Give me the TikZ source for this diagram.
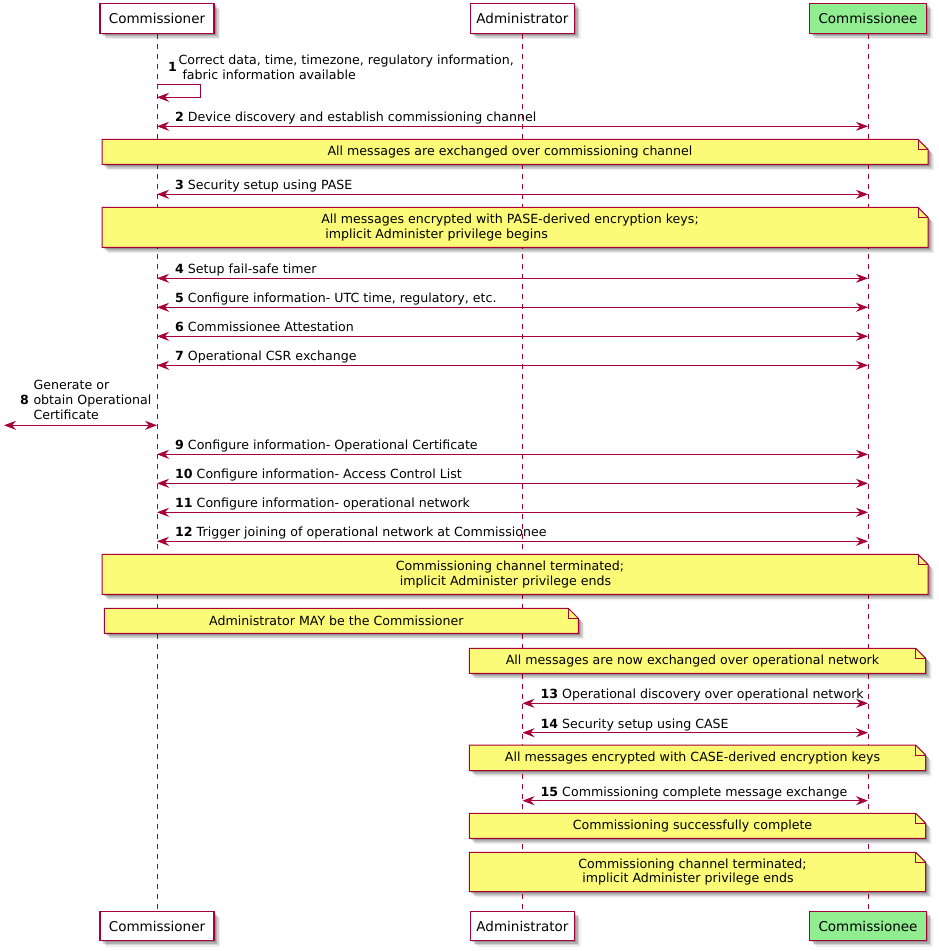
\documentclass[tikz,border=0pt]{standalone}
\usepackage{fontspec}
\setmainfont{DejaVu Sans}
\usetikzlibrary{arrows.meta,shadows}
\definecolor{lc}{HTML}{A80036}
\definecolor{notey}{HTML}{FBFB77}
\definecolor{pgreen}{HTML}{90EE90}
\tikzset{
  shd/.style={drop shadow={shadow xshift=1.5pt,shadow yshift=-1.5pt,opacity=.18,fill=black},
              drop shadow={shadow xshift=3pt,shadow yshift=-3pt,opacity=.16,fill=black},
              drop shadow={shadow xshift=4.5pt,shadow yshift=-4.5pt,opacity=.12,fill=black},
              drop shadow={shadow xshift=6pt,shadow yshift=-6pt,opacity=.06,fill=black}},
  part/.style={draw=lc, line width=1.5pt, fill=white, minimum height=30pt, inner sep=0pt,
               font=\fontsize{13.5}{16}\selectfont, shd},
  lifeline/.style={draw=lc, line width=1pt, dash pattern=on 5pt off 5pt},
  tipA/.tip={Stealth[length=12pt,width=9pt,inset=4pt]},
  msg/.style={draw=lc, line width=1pt, tipA-tipA},
  selfmsg/.style={draw=lc, line width=1pt, -tipA},
  lab/.style={font=\fontsize{12.6}{14.6}\selectfont, inner sep=0pt, anchor=base west},
  mlab/.style={font=\fontsize{12.6}{14.6}\selectfont, inner sep=0pt, align=left},
  notebox/.style={draw=lc, line width=1pt, fill=notey, shd},
  notefold/.style={draw=lc, line width=1pt},
  notetext/.style={font=\fontsize{12.6}{14.6}\selectfont, inner sep=0pt, align=left}
}
\newcommand\sqmsg[5]{%
  \draw[msg] (#2 |- 0,#1) -- (#3 |- 0,#1);
  \path (#2 |- 0,#1) ++(18,-4.5) node[lab] (m#4) {\textbf{#4} #5};}
\newcommand\sqnote[6]{%
  \path[notebox] (#2,#3) -- ({#4-10},#3) -- (#4,{#3+10}) -- (#4,#5) -- (#2,#5) -- cycle;
  \draw[notefold] ({#4-10},#3) -- ({#4-10},{#3+10}) -- (#4,{#3+10});
  \node[notetext] (#1) at ({(#2+#4-10)/2},{(#3+#5)/2}) {#6};}
\begin{document}
\begin{tikzpicture}[x=1pt,y=-1pt]
\fill[white] (0,0) rectangle (938,951);
\useasboundingbox (0,0) rectangle (938,951);

% participants
\node[part, minimum width=114pt] (ctop) at (157,18.3) {Commissioner};
\node[part, minimum width=104pt] (atop) at (522.5,18.3) {Administrator};
\node[part, minimum width=117pt, fill=pgreen] (etop) at (868,18.3) {Commissionee};
\node[part, minimum width=114pt, minimum height=29pt] (cbot) at (157,926.2) {Commissioner};
\node[part, minimum width=104pt, minimum height=29pt] (abot) at (522.5,926.2) {Administrator};
\node[part, minimum width=117pt, minimum height=29pt, fill=pgreen] (ebot) at (868,926.2) {Commissionee};

% lifelines
\draw[lifeline] (ctop.south) -- (cbot.north);
\draw[lifeline] (atop.south) -- (abot.north);
\draw[lifeline] (etop.south) -- (ebot.north);

% message 1 (self)
\draw[selfmsg] (ctop |- 0,84.3) -- ++(43,0) -- ++(0,13) -- (ctop |- 0,97.3);
\node[lab, anchor=west] (m1n) at (168,67) {\textbf{1}};
\node[mlab, anchor=west] (m1) at (178.3,67) {Correct data, time, timezone, regulatory information,\\\hspace*{.318em}fabric information available};

\sqmsg{126.3}{ctop}{etop}{2}{Device discovery and establish commissioning channel}
\sqnote{n1}{102}{139.3}{928}{164.3}{All messages are exchanged over commissioning channel}
\sqmsg{194.3}{ctop}{etop}{3}{Security setup using PASE}
\sqnote{n2}{102}{207.3}{928}{247.3}{All messages encrypted with PASE-derived encryption keys;\\\hspace*{.318em}implicit Administer privilege begins}
\sqmsg{278.3}{ctop}{etop}{4}{Setup fail-safe timer}
\sqmsg{307.3}{ctop}{etop}{5}{Configure information- UTC time, regulatory, etc.}
\sqmsg{336.3}{ctop}{etop}{6}{Commissionee Attestation}
\sqmsg{365.3}{ctop}{etop}{7}{Operational CSR exchange}

% message 8
\coordinate (left8) at (4,425.3);
\draw[msg] (left8) -- (ctop |- left8);
\node[lab, anchor=east] (m8n) at (29,400) {\textbf{8}};
\node[mlab, anchor=west] (m8) at (33.3,400) {Generate or\\obtain Operational\\Certificate};

\sqmsg{454.3}{ctop}{etop}{9}{Configure information- Operational Certificate}
\sqmsg{483.3}{ctop}{etop}{10}{Configure information- Access Control List}
\sqmsg{512.3}{ctop}{etop}{11}{Configure information- operational network}
\sqmsg{541.3}{ctop}{etop}{12}{Trigger joining of operational network at Commissionee}
\sqnote{n3}{102}{554.3}{928}{594.3}{Commissioning channel terminated;\\\hspace*{.318em}implicit Administer privilege ends}
\sqnote{n4}{104.3}{608.3}{578.3}{633.3}{Administrator MAY be the Commissioner}
\sqnote{n5}{469.3}{648.3}{925.7}{673.3}{All messages are now exchanged over operational network}
\sqmsg{703.3}{atop}{etop}{13}{Operational discovery over operational network}
\sqmsg{732.7}{atop}{etop}{14}{Security setup using CASE}
\sqnote{n6}{469.3}{745}{925.7}{770.7}{All messages encrypted with CASE-derived encryption keys}
\sqmsg{800.7}{atop}{etop}{15}{Commissioning complete message exchange}
\sqnote{n7}{469.3}{813.3}{925.7}{838.3}{Commissioning successfully complete}
\sqnote{n8}{469.3}{852.3}{925.7}{891.7}{Commissioning channel terminated;\\\hspace*{.318em}implicit Administer privilege ends}
\end{tikzpicture}
\end{document}
